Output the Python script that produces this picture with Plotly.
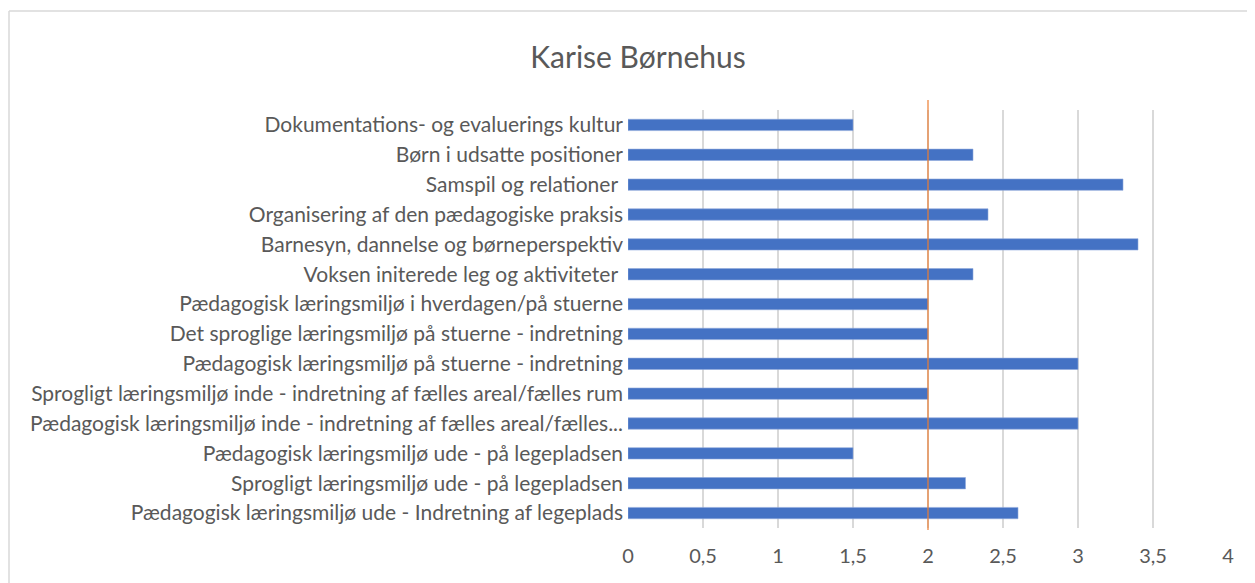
import plotly.graph_objects as go

categories = [
    "Dokumentations- og evaluerings kultur",
    "Børn i udsatte positioner",
    "Samspil og relationer ",
    "Organisering af den pædagogiske praksis",
    "Barnesyn, dannelse og børneperspektiv",
    "Voksen initerede leg og aktiviteter ",
    "Pædagogisk læringsmiljø i hverdagen/på stuerne",
    "Det sproglige læringsmiljø på stuerne - indretning",
    "Pædagogisk læringsmiljø på stuerne - indretning",
    "Sprogligt læringsmiljø inde - indretning af fælles areal/fælles rum",
    "Pædagogisk læringsmiljø inde - indretning af fælles areal/fælles...",
    "Pædagogisk læringsmiljø ude - på legepladsen",
    "Sprogligt læringsmiljø ude - på legepladsen",
    "Pædagogisk læringsmiljø ude - Indretning af legeplads",
]
values = [1.5, 2.3, 3.3, 2.4, 3.4, 2.3, 2.0, 2.0, 3.0, 2.0, 3.0, 1.5, 2.25, 2.6]
tick_vals = [0, 0.5, 1, 1.5, 2, 2.5, 3, 3.5, 4]
tick_text = ["0", "0,5", "1", "1,5", "2", "2,5", "3", "3,5", "4"]
reference_value = 2

fig = go.Figure()
fig.add_trace(go.Bar(
    x=values, y=categories, orientation="h",
    marker=dict(color="#4472C4", line=dict(color="#8FAADC", width=0.6)),
    hoverinfo="x+y",
))

OFF = 8  # page body offset
W, H = 1255 - OFF, 583 - OFF
L, T = 628 - OFF, 110 - OFF
R = W - (1228 - OFF)
B = H - (528 - OFF)
pw, ph = W - L - R, H - T - B

def px_to_paper_x(px):
    return (px - OFF - L) / pw

def px_to_paper_y(py):
    return (H - B - (py - OFF)) / ph

fig.update_layout(
    width=W, height=H,
    margin=dict(l=L, r=R, t=T, b=B),
    paper_bgcolor="white", plot_bgcolor="white",
    bargap=0.62,
    showlegend=False,
    font=dict(family="Lato, 'Open Sans', sans-serif", color="#595959", size=16),
    title=dict(text="Karise Børnehus", x=(638 - OFF) / W, xanchor="center",
               y=1 - (57 - OFF) / H, yanchor="middle",
               font=dict(size=30, color="#595959")),
    xaxis=dict(range=[0, 4], tickvals=tick_vals, ticktext=tick_text,
               showgrid=True, gridcolor="#D9D9D9", gridwidth=1.5,
               zeroline=False, showline=False, ticks="", ticklen=0,
               ticklabelstandoff=14,
               tickfont=dict(size=20, color="#595959")),
    yaxis=dict(categoryorder="array", categoryarray=categories, autorange="reversed",
               showgrid=False, zeroline=False, showline=False, ticks="",
               ticklabelstandoff=4, tickfont=dict(size=21, color="#595959")),
)

# reference line at 2
fig.add_shape(type="line", xref="x", yref="paper",
              x0=reference_value, x1=reference_value,
              y0=px_to_paper_y(530), y1=px_to_paper_y(100),
              line=dict(color="#ED7D31", width=1.2))

# chart border (top and left)
fig.add_shape(type="line", xref="paper", yref="paper",
              x0=px_to_paper_x(OFF + 1), x1=px_to_paper_x(1260),
              y0=px_to_paper_y(11), y1=px_to_paper_y(11),
              line=dict(color="#D9D9D9", width=1.5))
fig.add_shape(type="line", xref="paper", yref="paper",
              x0=px_to_paper_x(OFF + 1), x1=px_to_paper_x(OFF + 1),
              y0=px_to_paper_y(11), y1=px_to_paper_y(590),
              line=dict(color="#D9D9D9", width=1.5))

fig.write_html("out.html")
